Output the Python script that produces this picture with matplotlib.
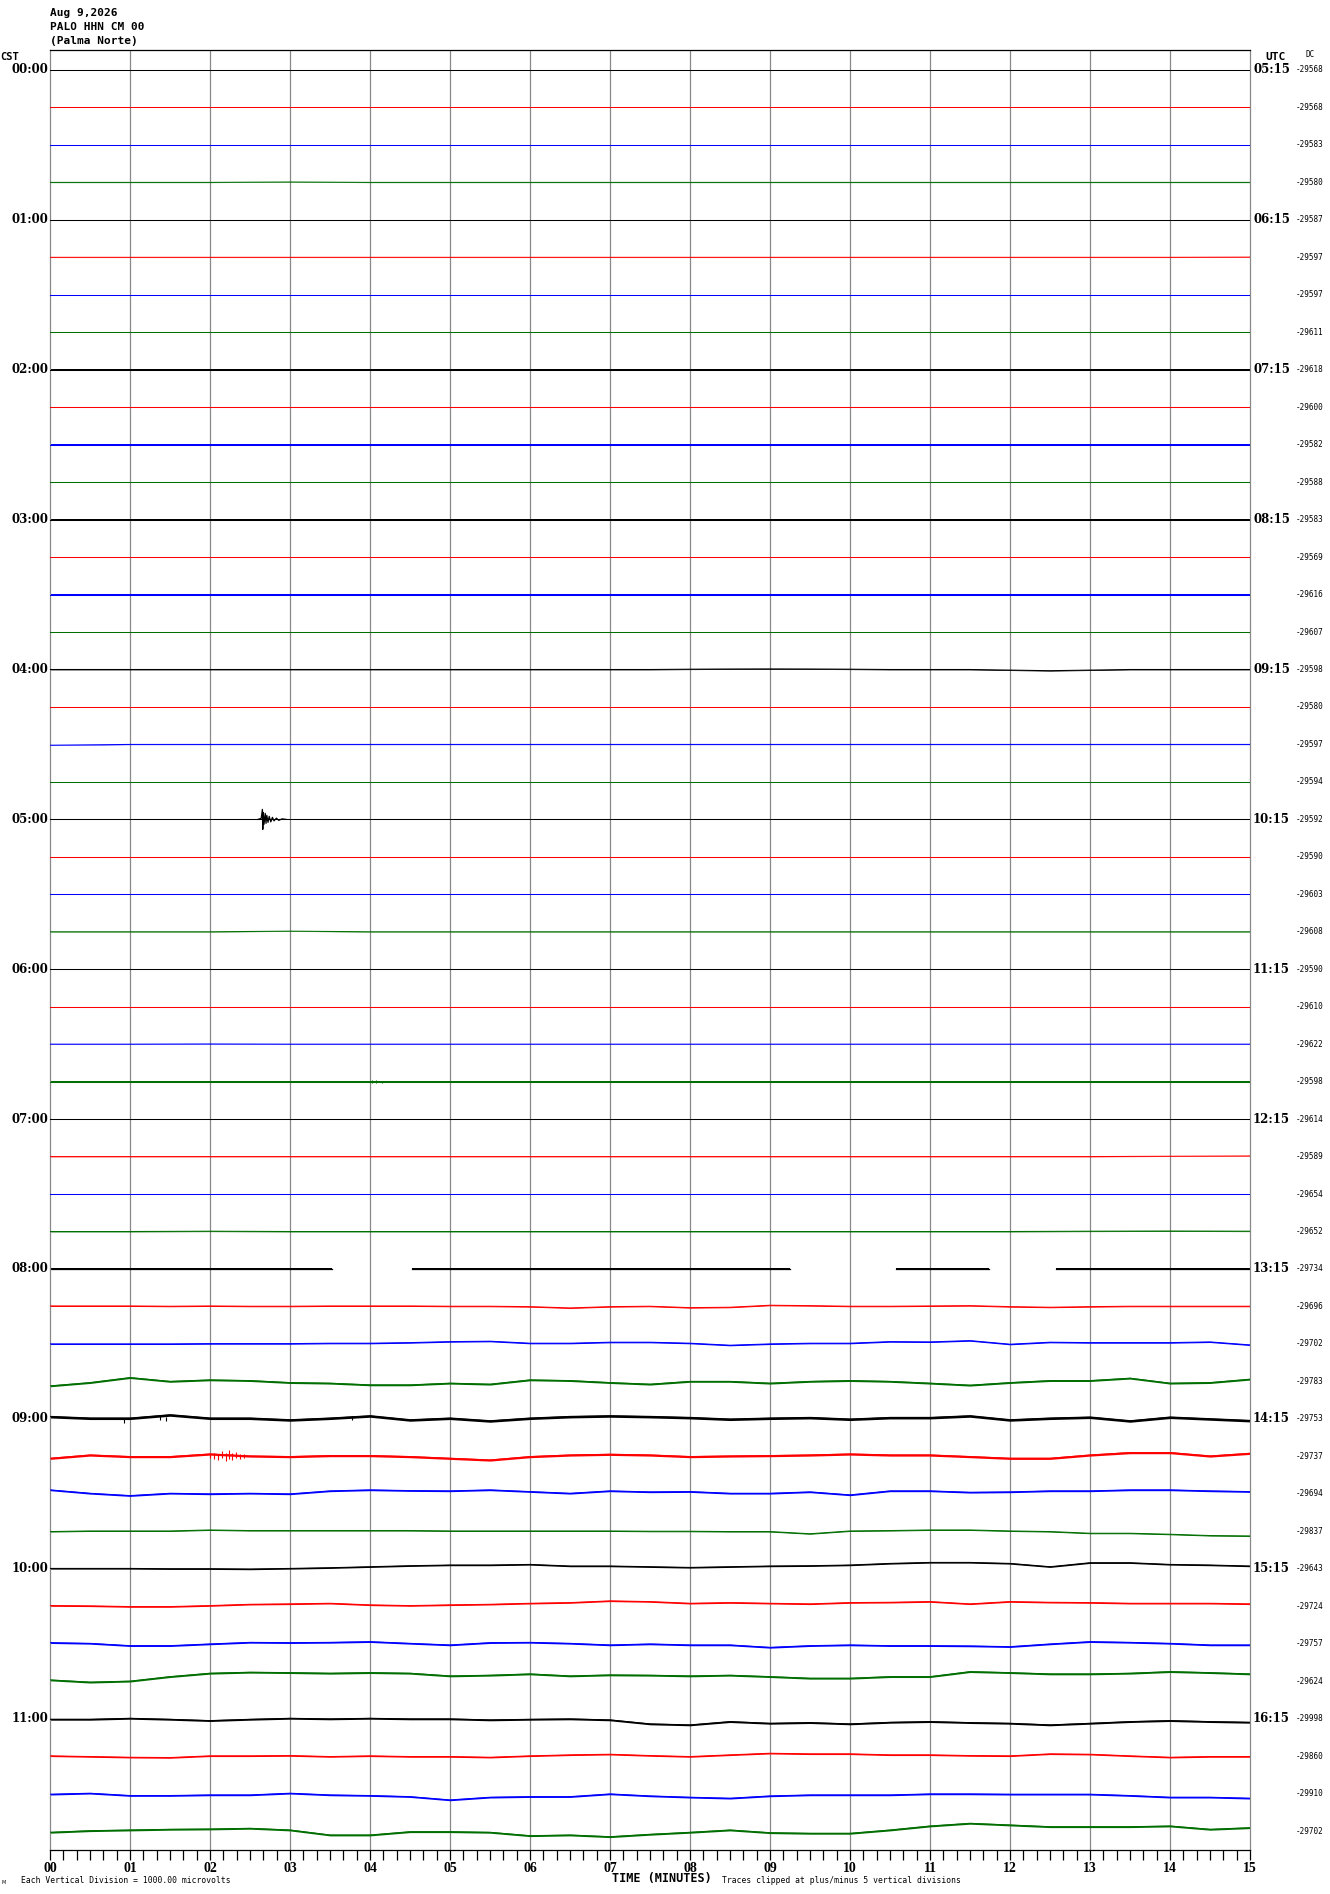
import numpy as np
import matplotlib
matplotlib.use("Agg")
import matplotlib.pyplot as plt
from matplotlib.ticker import MultipleLocator

# ---------------- data ----------------
W, H = 1330, 1894
PX_PER_DIV = 37.47          # trace spacing (1 vertical division) in pixels

header_lines = ["Aug 9,2026", "PALO HHN CM 00", "(Palma Norte)"]
minute_labels = ["00", "01", "02", "03", "04", "05", "06", "07",
                 "08", "09", "10", "11", "12", "13", "14", "15"]
cst_labels = ["00:00", "01:00", "02:00", "03:00", "04:00", "05:00",
              "06:00", "07:00", "08:00", "09:00", "10:00", "11:00"]
utc_labels = ["05:15", "06:15", "07:15", "08:15", "09:15", "10:15",
              "11:15", "12:15", "13:15", "14:15", "15:15", "16:15"]
dc_values = [-29568, -29568, -29583, -29580,
             -29587, -29597, -29597, -29611,
             -29618, -29600, -29582, -29588,
             -29583, -29569, -29616, -29607,
             -29598, -29580, -29597, -29594,
             -29592, -29590, -29603, -29608,
             -29590, -29610, -29622, -29598,
             -29614, -29589, -29654, -29652,
             -29734, -29696, -29702, -29783,
             -29753, -29737, -29694, -29837,
             -29643, -29724, -29757, -29624,
             -29998, -29860, -29910, -29702]
trace_colors = ["black", "red", "blue", "#006e00"]

# trace deviations from baseline (pixels, + = up), evenly spaced over 0..15 min
hour00 = [[0, 0, 0, 0, 0, 0, 0, 0, 0, 0, 0, 0, 0, 0, 0, 0],
          [0, 0, 0, 0, 0, 0, 0, 0, 0, 0, 0, 0, 0, 0, 0, 0],
          [0, 0, 0, 0, 0, 0, 0, 0, 0, 0, 0, 0, 0, 0, 0, 0],
          [0, 0, 0, 0.4, 0, 0, 0, 0, 0, 0, 0, 0, 0, 0, 0, 0]]
hour01 = [[0, 0, 0, 0, 0, 0, 0, 0, 0, 0, 0, 0, 0, 0, 0, 0],
          [0, 0, 0, 0, 0, 0, 0, 0, 0, 0, 0, 0, 0, 0, 0, 0.2],
          [0, 0, 0, 0, 0, 0, 0, 0, 0, 0, 0, 0, 0, 0, 0, 0],
          [0, 0, 0, 0, 0, 0, 0, 0, 0, 0, 0, 0, 0, 0, 0, 0]]
hour02 = [[0, 0, 0, 0, 0, 0, 0, 0, 0, 0, 0, 0, 0, 0, 0, 0],
          [0, 0, 0, 0, 0, 0, 0, 0, 0, 0, 0, 0, 0, 0, 0, 0],
          [0, 0, 0, 0, 0, 0, 0, 0, 0, 0, 0, 0, 0, 0, 0, 0],
          [0, 0, 0, 0, 0, 0, 0, 0, 0, 0, 0, 0, 0, 0, 0, 0]]
hour03 = [[0, 0, 0, 0, 0, 0, 0, 0, 0, 0, 0, 0, 0, 0, 0, 0],
          [0, 0, 0, 0, 0, 0, 0, 0, 0, 0, 0, 0, 0, 0, 0, 0],
          [0, 0, 0, 0, 0, 0, 0, 0, 0, 0, 0, 0, 0, 0, 0, 0],
          [0, 0, 0, 0, 0, 0, 0, 0, 0, 0, 0, 0, 0, 0, 0, 0]]
hour04 = [[0, 0, 0, 0, 0, 0, 0, 0, 0, 0, 0, 0, 0, 0, 0, 0,
           0.3, 0.5, 0.6, 0.5, 0.3, 0, 0, 0, -0.6, -1.2, -0.6, 0, 0, 0, 0],
          [0, 0, 0, 0, 0, 0, 0, 0, 0, 0, 0, 0, 0, 0, 0, 0],
          [-0.8, 0, 0, 0, 0, 0, 0, 0, 0, 0, 0, 0, 0, 0, 0, 0],
          [0, 0, 0, 0, 0, 0, 0, 0, 0, 0, 0, 0, 0, 0, 0, 0]]
hour05 = [[0, 0, 0, 0, 0, 0, 0, 0, 0, 0, 0, 0, 0, 0, 0, 0],
          [0, 0, 0, 0, 0, 0, 0, 0, 0, 0, 0, 0, 0, 0, 0, 0],
          [0, 0, 0, 0, 0, 0, 0, 0, 0, 0, 0, 0, 0, 0, 0, 0],
          [0, 0, 0, 0.6, 0, 0, 0, 0, 0, 0, 0, 0, 0, 0, 0, 0]]
hour06 = [[0, 0, 0, 0, 0, 0, 0, 0, 0, 0, 0, 0, 0, 0, 0, 0],
          [0, 0, 0, 0, 0, 0, 0, 0, 0, 0, 0, 0, 0, 0, 0, 0],
          [0, 0, 0.2, 0, 0, 0, 0, 0, 0, 0, 0, 0, 0, 0, 0, 0],
          [0, 0, 0, 0, 0, 0, 0, 0, 0, 0, 0, 0, 0, 0, 0, 0]]
hour07 = [[0, 0, 0, 0, 0, 0, 0, 0, 0, 0, 0, 0, 0, 0, 0, 0],
          [0, 0, 0, 0, 0, 0, 0, 0, 0, 0, 0, 0, 0, 0, 0.3, 0.6],
          [0, 0, 0, 0, 0, 0, 0, 0, 0, 0, 0, 0, 0, 0, 0, 0],
          [0, 0, 0.3, 0, 0, 0, 0, 0, 0, 0, 0, 0, 0, 0.3, 0.5, 0.3]]
hour08 = [[0, 0, 0, 0, 0, 0, 0, 0, 0, 0, 0, 0, 0, 0, 0, 0],
          [0.5, 0.5, 0.5, 0.2, 0.5, 0.2, 0.2, 0.5, 0.5, 0.5, 0.2, 0.2, -0.2, -1.5, -0.2, 0.2,
           -1.2, -0.8, 1.2, 0.8, 0.2, 0.2, 0.5, 0.8, -0.2, -0.8, -0.2, 0.2, 0.2, 0.2, 0.2],
          [0, 0, 0, 0, 0.3, 0.3, 0.3, 0.7, 0.7, 1.3, 2.3, 2.7, 0.7, 0.7, 1.7, 1.7,
           0.7, -1.3, 0, 0.7, 0.7, 2.3, 2, 3.3, -0.3, 1.7, 1.3, 1.3, 1.3, 2, -1],
          [-4.5, -1.2, 3.8, 0, 1.5, 0.8, -1.2, -1.8, -3.5, -3.5, -1.8, -2.8, 1.5, 0.8, -1.2, -2.8,
           0, 0, -1.8, 0, 0.8, 0, -1.8, -3.8, -1.2, 0.8, 0.8, 3.2, -1.8, -1.2, 2.2]]
hour09 = [[2.2, 0.6, 0.6, 3.9, 0.6, 0.6, -1.1, 0.6, 2.9, -1.1, 0.6, -2.1, 0.6, 2.2, 2.9, 2.2,
           1.2, -0.4, 0.6, 1.2, -0.4, 1.2, 1.2, 2.9, -1.1, 0.6, 1.6, -2.1, 1.6, -0.1, -1.8],
          [-2, 1.3, -0.3, -0.3, 2.3, 0.3, -0.3, 0.7, 0.7, -0.3, -2, -3.7, -0.3, 1.3, 2, 1.3,
           -0.3, 0.3, 0.7, 1.3, 2.3, 1.3, 1.3, -0.3, -2, -2, 1.3, 3.7, 3.7, 0.3, 3],
          [3.9, 0.5, -1.8, 0.5, -0.1, 0.5, -0.1, 2.9, 3.9, 3.2, 2.9, 3.9, 2.2, 0.5, 2.9, 1.9,
           2.2, 0.5, 0.5, 1.9, -1.1, 2.9, 2.9, 1.5, 1.9, 2.9, 2.9, 3.9, 3.9, 2.9, 2.2],
          [-0.3, 0.3, 0.3, 0.3, 1.3, 0.7, 0.7, 0.7, 0.7, 0.7, 0.3, 0.3, 0.3, 0.3, 0.3, 0,
           0, -0.3, -0.3, -2.5, 0.3, 0.7, 1.3, 1.3, 0.3, -0.3, -2, -2, -3, -4.3, -4.7]]
hour10 = [[0.3, 0.3, 0.3, 0, 0, -0.3, 0.3, 1, 2, 3, 3.7, 3.7, 4.3, 2.7, 2.7, 2,
           1.3, 2, 2.7, 3, 3.7, 5.3, 6.3, 6.3, 5.3, 2, 6, 6, 4.3, 3.7, 2.7],
          [0.6, 0.3, -0.4, -0.4, 0.6, 1.9, 2.3, 2.9, 1.3, 0.6, 1.3, 1.9, 2.9, 3.6, 5.3, 4.6,
           2.9, 3.6, 2.9, 2.3, 3.6, 3.9, 4.6, 2.3, 4.6, 3.9, 3.6, 2.9, 2.9, 2.9, 2.3],
          [1, 0.3, -2, -2, -0.3, 1.3, 1, 1.3, 2, 0.3, -1.3, 1, 1.3, 0.3, -1.3, -0.3,
           -1.3, -1.3, -3.7, -2, -1.3, -2, -2, -2.3, -3, -0.3, 2, 1.3, 0.3, -1.3, -1.3],
          [1.2, -1, 0, 4.5, 7.9, 8.9, 8.5, 7.9, 8.5, 7.9, 5.2, 5.9, 7.2, 5.2, 6.2, 5.9,
           5.2, 5.9, 4.5, 2.9, 2.9, 4.5, 4.5, 9.5, 8.5, 7.2, 7.2, 7.9, 9.5, 8.5, 7.2]]
hour11 = [[-0.7, -0.7, 0.3, -0.7, -2, -0.7, 0.3, -0.3, 0.3, -0.3, -0.3, -1.3, -0.7, -0.3, -1.3, -5.3,
           -6.3, -3, -4.7, -4, -5.3, -3.7, -3, -4, -4.7, -6.3, -4.7, -3, -2, -3, -3.7],
          [0.2, -0.5, -1.2, -1.5, 0.2, 0.2, 0.5, -0.5, 0.2, -0.5, -0.5, -1.2, 0.2, 1.2, 1.8, 0.5,
           -0.5, 1.2, 2.8, 2.2, 2.2, 1.2, 1.2, 0.5, 0.2, 2.2, 1.8, 0.2, -1.2, -0.5, -0.5],
          [-0.7, 0.3, -2, -2, -1.4, -1.4, 0.3, -1.4, -2, -3.1, -6.4, -3.7, -3.1, -3.1, -0.4, -2.4,
           -3.7, -4.7, -2.4, -1.4, -1.4, -1.4, -0.4, -0.4, -0.7, -0.7, -0.7, -2, -3.7, -3.7, -4.7],
          [-1.3, 0.3, 1, 1.7, 2, 2.7, 1, -4, -4, -0.7, -0.7, -1.3, -4.7, -4, -5.7, -3.3,
           -1.3, 1, -1.7, -2.3, -2.3, 1, 5, 7.7, 6, 4.3, 4.3, 4.3, 5, 1.7, 3.3]]

# noise half-width of each trace (pixels)
noise_px = [0.3, 0.2, 0.2, 0.2, 0.3, 0.2, 0.2, 0.2,
            0.3, 0.2, 0.2, 0.2, 0.3, 0.2, 0.2, 0.2,
            0.4, 0.2, 0.2, 0.2, 0.3, 0.2, 0.2, 0.2,
            0.3, 0.2, 0.2, 0.3, 0.3, 0.2, 0.2, 0.4,
            0.5, 0.5, 0.6, 0.9, 1.3, 1.1, 0.8, 0.5,
            0.7, 0.7, 0.8, 0.9, 0.9, 0.7, 0.8, 0.9]

# recorded segments of the 08:00 trace (minutes) -- data gaps in between
gap_trace = 32
segments_0800 = [(0.0, 3.53), (4.52, 9.25), (10.57, 11.74), (12.57, 15.0)]

# local earthquake on the 05:00 trace
event_trace = 20
event_t = [2.60, 2.64, 2.655, 2.66, 2.665, 2.675, 2.69, 2.70, 2.71, 2.725, 2.74, 2.76,
           2.78, 2.80, 2.83, 2.86, 2.90, 2.95]
event_px = [0, 1, 10, -10, 7, -5, 6, -4, 4, -3, 3, -2.5, 2, -1.5, 1.2, -1, 0.5, 0]

# short noise bursts: (trace, minute, up px, down px)
spikes = [(36, 0.93, 0, 4), (36, 1.38, 3.5, 1), (36, 1.45, 2, 2), (36, 3.78, 2.5, 1),
          (37, 2.00, 2, 2), (37, 2.05, 3, 3), (37, 2.10, 2, 4), (37, 2.15, 5, 2),
          (37, 2.20, 3, 5), (37, 2.24, 6, 3), (37, 2.28, 3, 4), (37, 2.33, 4, 2),
          (37, 2.38, 2, 3), (37, 2.43, 2, 2),
          (27, 4.02, 1.5, 1.5), (27, 4.08, 1.5, 1.5), (27, 4.15, 1, 1.2)]

# ---------------- figure ----------------
traces = hour00 + hour01 + hour02 + hour03 + hour04 + hour05 + \
         hour06 + hour07 + hour08 + hour09 + hour10 + hour11

fig = plt.figure(figsize=(W / 100, H / 100), dpi=100)
ax = fig.add_axes([50 / W, 1 - 1850 / H, 1200 / W, 1800 / H])
ax.set_xlim(0, 15)
ax.set_ylim(-(len(traces) - 1) - 19 / PX_PER_DIV, 20 / PX_PER_DIV)

for m in range(1, 15):
    ax.axvline(m, color="#888888", lw=0.9, zorder=0)

for i, vals in enumerate(traces):
    c = trace_colors[i % 4]
    v = np.asarray(vals, dtype=float) / PX_PER_DIV
    t = np.linspace(0, 15, len(v))
    y = -i + v
    nz = noise_px[i] / PX_PER_DIV
    if i == gap_trace:
        for s, e in segments_0800:
            ax.fill_between([s, e], [-i - nz] * 2, [-i + nz] * 2, color=c, lw=0)
            ax.plot([s, e], [-i, -i], color=c, lw=0.9)
        continue
    ax.fill_between(t, y - nz, y + nz, color=c, lw=0, zorder=2)
    ax.plot(t, y, color=c, lw=0.75, zorder=3)

ax.plot(event_t, -event_trace + np.asarray(event_px) / PX_PER_DIV,
        color=trace_colors[event_trace % 4], lw=0.9, zorder=4)
for tr, tm, up, dn in spikes:
    ax.vlines(tm, -tr - dn / PX_PER_DIV, -tr + up / PX_PER_DIV,
              color=trace_colors[tr % 4], lw=0.8, zorder=4)

# spines / ticks
ax.spines["top"].set_color("black")
ax.spines["bottom"].set_color("black")
ax.spines["left"].set_color("#888888")
ax.spines["right"].set_color("#888888")
for s in ax.spines.values():
    s.set_linewidth(0.9)
ax.set_yticks([])
ax.set_xticks(range(16))
ax.set_xticklabels(minute_labels, fontfamily="Liberation Serif",
                   fontweight="bold", fontsize=10)
ax.xaxis.set_minor_locator(MultipleLocator(1 / 6))
ax.tick_params(axis="x", which="both", direction="out", length=7,
               width=0.9, color="black", pad=1.5)

ytr = ax.get_yaxis_transform()
for k in range(len(cst_labels)):
    ax.text(-0.001, -4 * k, cst_labels[k], transform=ytr, ha="right", va="center",
            fontfamily="DejaVu Serif", fontweight="bold", fontsize=8.5, clip_on=False)
    ax.text(1.0025, -4 * k, utc_labels[k], transform=ytr, ha="left", va="center",
            fontfamily="DejaVu Serif", fontweight="bold", fontsize=8.5, clip_on=False)
for i, dc in enumerate(dc_values):
    ax.text(1.0383, -i, f"{dc}", transform=ytr, ha="left", va="center",
            fontfamily="DejaVu Sans Mono", fontsize=5.5, clip_on=False)


def ftxt(x, y, s, **kw):
    fig.text(x / W, 1 - y / H, s, **kw)


mono_b = dict(fontfamily="DejaVu Sans Mono", fontweight="bold")
ftxt(50, 12.5, header_lines[0], ha="left", va="center", fontsize=8, **mono_b)
ftxt(50, 26.5, header_lines[1], ha="left", va="center", fontsize=8, **mono_b)
ftxt(50, 41.5, header_lines[2], ha="left", va="center", fontsize=8, **mono_b)
ftxt(0, 57, "CST", ha="left", va="center", fontsize=7.5, **mono_b)
ftxt(1265, 56.5, "UTC", ha="left", va="center", fontsize=8, **mono_b)
ftxt(1306, 54.5, "DC", ha="left", va="center", fontsize=5.5, fontfamily="DejaVu Sans Mono")
ftxt(662, 1878, "TIME (MINUTES)", ha="center", va="center", fontsize=8.5, **mono_b)
ftxt(722, 1880, "Traces clipped at plus/minus 5 vertical divisions", ha="left",
     va="center", fontsize=5.8, fontfamily="DejaVu Sans Mono")
ftxt(21, 1880, "Each Vertical Division = 1000.00 microvolts", ha="left",
     va="center", fontsize=5.8, fontfamily="DejaVu Sans Mono")
ftxt(2, 1882, "M", ha="left", va="center", fontsize=3.5, fontfamily="DejaVu Sans")

fig.savefig("out.png", dpi=100, facecolor="white")
